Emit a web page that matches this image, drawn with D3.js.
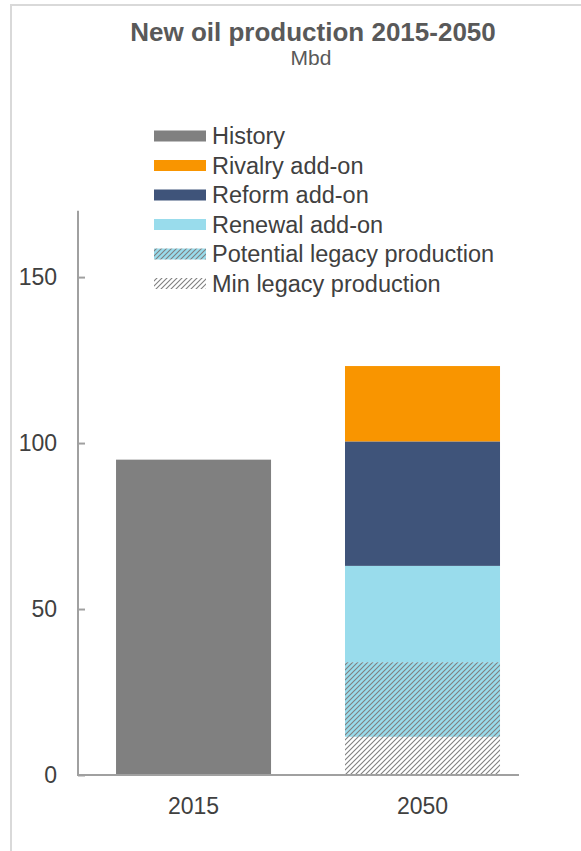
<!DOCTYPE html>
<html>
<head>
<meta charset="utf-8">
<script src="https://cdn.jsdelivr.net/npm/d3@7"></script>
<style>
  html, body { margin: 0; padding: 0; background: #ffffff; }
  svg { display: block; font-family: "Liberation Sans", Arial, sans-serif; }
</style>
</head>
<body>
<svg id="chart" width="581" height="851"></svg>
<script>
// ---- data ----
const categories = ["2015", "2050"];
const seriesNames = ["Min legacy production", "Potential legacy production", "Renewal add-on", "Reform add-on", "Rivalry add-on", "History"];
const minLegacy = [0, 11.5];
const potentialLegacy = [0, 22.5];
const renewal = [0, 29];
const reform = [0, 37.5];
const rivalry = [0, 22.7];
const history = [95, 0];
const yTicks = [0, 50, 100, 150];
const legendOrder = ["History", "Rivalry add-on", "Reform add-on", "Renewal add-on", "Potential legacy production", "Min legacy production"];

const seriesValues = {
  "Min legacy production": minLegacy,
  "Potential legacy production": potentialLegacy,
  "Renewal add-on": renewal,
  "Reform add-on": reform,
  "Rivalry add-on": rivalry,
  "History": history
};

const colors = {
  "History": "#808080",
  "Rivalry add-on": "#F99500",
  "Reform add-on": "#3F547A",
  "Renewal add-on": "#99DCEC",
  "Potential legacy production": "url(#hatchBlue)",
  "Min legacy production": "url(#hatchWhite)"
};

const svg = d3.select("#chart");

// patterns
const defs = svg.append("defs");
function hatch(id, bg) {
  const p = defs.append("pattern").attr("id", id).attr("patternUnits", "userSpaceOnUse")
    .attr("width", 5).attr("height", 5);
  p.append("rect").attr("width", 5).attr("height", 5).attr("fill", bg);
  p.append("path").attr("d", "M-1,1 l2,-2 M0,5 l5,-5 M4,6 l2,-2")
    .attr("stroke", "#7f7f7f").attr("stroke-width", 1.1);
}
hatch("hatchBlue", "#99DCEC");
hatch("hatchWhite", "#ffffff");

// outer border
svg.append("path").attr("d", "M11,851 V5 H581").attr("fill", "none")
  .attr("stroke", "#d9d9d9").attr("stroke-width", 2);

// scales
const y = d3.scaleLinear().domain([0, 170]).range([775, 210.7]);
const x = d3.scaleBand().domain(categories).range([78, 519])
  .paddingInner(0.323).paddingOuter(0.1245).align(0.667);

// stacked data
const rows = categories.map((c, i) => {
  const r = { cat: c };
  seriesNames.forEach(s => r[s] = seriesValues[s][i]);
  return r;
});
const stacked = d3.stack().keys(seriesNames)(rows);

svg.append("g").selectAll("g").data(stacked).join("g")
  .attr("fill", d => colors[d.key])
  .selectAll("rect").data(d => d.filter(p => p[1] - p[0] > 0)).join("rect")
  .attr("x", d => x(d.data.cat))
  .attr("width", x.bandwidth())
  .attr("y", d => y(d[1]))
  .attr("height", d => y(d[0]) - y(d[1]));

// y axis
const yAxis = svg.append("g").attr("transform", "translate(78,0)")
  .call(d3.axisRight(y).tickValues(yTicks).tickSize(7).tickFormat(""));
yAxis.select(".domain").attr("stroke", "#a0a0a0").attr("stroke-width", 2)
  .attr("d", `M0,${y(170)}V${y(0)}`);
yAxis.selectAll(".tick line").attr("stroke", "#a0a0a0").attr("stroke-width", 2);

svg.append("g").selectAll("text").data(yTicks).join("text")
  .attr("x", 57).attr("y", d => y(d)).attr("dy", "0.35em")
  .attr("text-anchor", "end").attr("font-size", 23).attr("fill", "#404040")
  .text(d => d);

// x axis
const xAxis = svg.append("g").attr("transform", "translate(0,775)")
  .call(d3.axisBottom(x).tickSize(0).tickPadding(0));
xAxis.select(".domain").attr("stroke", "#a0a0a0").attr("stroke-width", 2)
  .attr("d", "M77,0H519");
xAxis.selectAll(".tick text").attr("font-size", 23).attr("fill", "#404040")
  .attr("font-family", "Liberation Sans, Arial, sans-serif")
  .attr("y", 31).attr("dy", "0.35em");

// legend
const lg = svg.append("g");
legendOrder.forEach((name, i) => {
  const cy = 136 + i * 29.5;
  lg.append("rect").attr("x", 154).attr("y", cy - 5.5).attr("width", 52).attr("height", 11)
    .attr("fill", colors[name]);
  lg.append("text").attr("x", 212).attr("y", cy).attr("dy", "0.35em")
    .attr("font-size", 23.5).attr("fill", "#404040").text(name);
});

// title
svg.append("text").attr("x", 313).attr("y", 41).attr("text-anchor", "middle")
  .attr("font-size", 26).attr("font-weight", "bold").attr("fill", "#595959")
  .text("New oil production 2015-2050");
svg.append("text").attr("x", 311).attr("y", 65).attr("text-anchor", "middle")
  .attr("font-size", 21).attr("fill", "#595959").text("Mbd");
</script>
</body>
</html>
